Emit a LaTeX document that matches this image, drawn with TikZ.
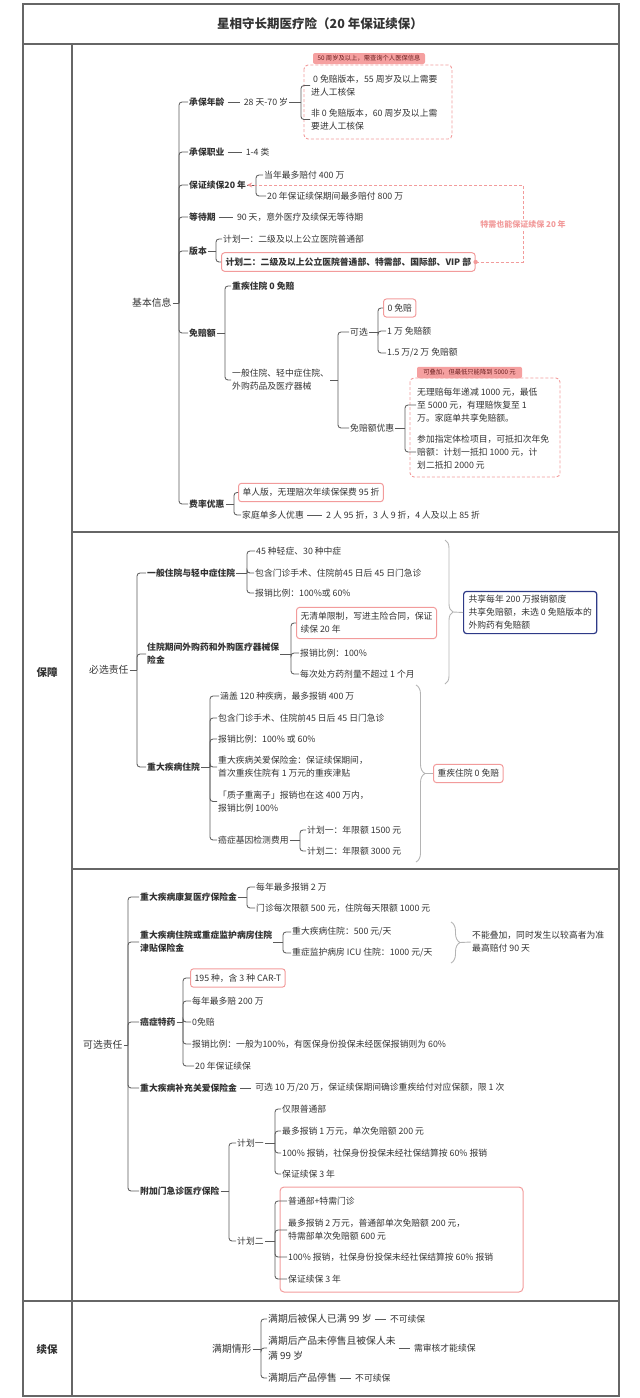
\documentclass[tikz,border=0pt]{standalone}
\usepackage{fontspec}
\setmainfont{Noto Sans CJK SC}
\usetikzlibrary{decorations.pathreplacing,arrows.meta}
\definecolor{txtc}{HTML}{333333}
\definecolor{linec}{HTML}{5A5A5A}
\definecolor{gridc}{HTML}{666666}
\definecolor{pinkc}{HTML}{F29B9B}
\definecolor{tagfill}{HTML}{F5A0A0}
\definecolor{tagtxt}{HTML}{6E2222}
\definecolor{bluec}{HTML}{2E3A87}
\definecolor{bracec}{HTML}{B4B4B4}
\newcommand{\mmfork}[3]{%
  \draw[conn] (#1.east) -- (#1.east -| #2);
  \foreach \kid in {#3}{\draw[conn] (#1.east -| #2) |- (\kid.west);}%
}
\begin{document}
\begin{tikzpicture}[x=1pt,y=-1pt,
  every node/.style={inner sep=1pt, text=txtc, font=\fontsize{8.8}{13}\selectfont, align=left},
  tx/.style={anchor=west},
  bt/.style={anchor=west, font=\fontsize{8.8}{13}\selectfont\bfseries},
  root/.style={anchor=west, font=\fontsize{9.8}{13}\selectfont},
  big/.style={anchor=west, font=\fontsize{9.8}{14.5}\selectfont},
  sect/.style={font=\fontsize{10.5}{13}\selectfont\bfseries},
  conn/.style={draw=linec, line width=0.85pt, rounded corners=3pt},
  single/.style={draw=linec, line width=0.85pt, shorten <=2pt, shorten >=3pt},
  grid/.style={draw=gridc, line width=1.2pt},
  pbox/.style={anchor=west, draw=pinkc, line width=1pt, rounded corners=3pt, inner xsep=4pt, inner ysep=5pt},
  pboxb/.style={pbox, font=\fontsize{8.8}{13}\selectfont\bfseries},
  pdash/.style={draw=pinkc, dash pattern=on 3pt off 2pt, line width=0.9pt, rounded corners=4pt},
  tag/.style={fill=tagfill, text=tagtxt, rounded corners=2pt, font=\fontsize{6.3}{7}\selectfont, inner sep=0pt, minimum height=11pt},
  sumbrace/.style={draw=bracec, line width=0.9pt, decorate, decoration={brace, amplitude=#1}},
  sumline/.style={draw=bracec, line width=0.9pt}
]
\useasboundingbox (0,0) rectangle (640,1398);

% ---------- table ----------
\draw[grid] (23,4) rectangle (619,1396);
\draw[grid] (23,44) -- (619,44);
\draw[grid] (72,44) -- (72,1396);
\draw[grid] (72,532) -- (619,532);
\draw[grid] (72,869) -- (619,869);
\draw[grid] (23,1301) -- (619,1301);
\node[font=\fontsize{12.5}{15}\selectfont\bfseries] (title) at (320,24) {星相守长期医疗险（20 年保证续保）};
\node[sect] (secbz) at (47,672) {保障};
\node[sect] (secxb) at (47,1349) {续保};

% ---------- 基本信息 ----------
\node[root] (jb) at (131,303) {基本信息};
\coordinate (s1) at (179,0);
\node[bt] (a1) at (188,102) {承保年龄};
\node[tx] (a1v) at ([xshift=17pt]a1.east) {28 天-70 岁};
\coordinate (s1a) at (301,0);
\draw[pdash] (304,65) rectangle (452,139);
\node[tag, minimum width=112pt] (tg1) at (369,58.5) {50 周岁及以上，需查询个人医保信息};
\node[tx] (a1c1) at (310,85.5) {\hspace*{2pt}0 免赔版本，55 周岁及以上需要\\进人工核保};
\node[tx] (a1c2) at (310,119.5) {非 0 免赔版本，60 周岁及以上需\\要进人工核保};
\draw[single] (a1.east) -- (a1v.west);
\mmfork{a1v}{s1a}{a1c1,a1c2}

\node[bt] (a2) at (188,152) {承保职业};
\node[tx] (a2v) at ([xshift=19pt]a2.east) {1-4 类};
\draw[single] (a2.east) -- (a2v.west);

\node[bt] (a3) at (188,185) {保证续保20 年};
\coordinate (s1c) at (256,0);
\node[tx] (a3c1) at (263,175) {当年最多赔付 400 万};
\node[tx] (a3c2) at (266,196) {20 年保证续保期间最多赔付 800 万};
\mmfork{a3}{s1c}{a3c1,a3c2}

\node[bt] (a4) at (188,217) {等待期};
\node[tx] (a4v) at ([xshift=19pt]a4.east) {90 天，意外医疗及续保无等待期};
\draw[single] (a4.east) -- (a4v.west);

\node[bt] (a5) at (188,251) {版本};
\coordinate (s1e) at (216,0);
\node[tx] (a5c1) at (222,239) {计划一：二级及以上公立医院普通部};
\node[pboxb] (a5c2) at (221,262) {计划二：二级及以上公立医院普通部、特需部、国际部、VIP 部};
\mmfork{a5}{s1e}{a5c1,a5c2}

\coordinate (tx1) at (523,0);
\draw[pdash, rounded corners=0pt, -{Stealth[length=5pt,width=5pt]}] (a5c2.east) -- (a5c2.east -| tx1) |- (a3.east);
\fill[pinkc] (a5c2.east) circle (2.2pt);
\node[font=\fontsize{8}{10}\selectfont\bfseries, text=pinkc, fill=white, inner sep=1.5pt] (lbl) at (523,224) {特需也能保证续保 20 年};

\node[bt] (a6) at (188,333) {免赔额};
\coordinate (s1f) at (225,0);
\node[bt] (a6c1) at (231,286) {重疾住院 0 免赔};
\node[tx] (a6c2) at (231,380) {一般住院、轻中症住院、\\外购药品及医疗器械};
\mmfork{a6}{s1f}{a6c1,a6c2}
\coordinate (s1g) at (338,0);
\node[tx] (kx) at (349,332) {可选};
\node[tx] (my) at (349,428) {免赔额优惠};
\mmfork{a6c2}{s1g}{kx,my}
\coordinate (s1h) at (378,0);
\node[pbox] (k1) at (383,308) {0 免赔};
\node[tx] (k2) at (386,331) {1 万 免赔额};
\node[tx] (k3) at (386,353) {1.5 万/2 万 免赔额};
\mmfork{kx}{s1h}{k1,k2,k3}
\draw[pdash] (410,378) rectangle (560,477);
\node[tag, minimum width=105pt, minimum height=11.5pt] (tg2) at (469.5,372.5) {可叠加，但最低只能降到 5000 元};
\coordinate (s1i) at (405,0);
\node[tx] (m1) at (416,405) {无理赔每年递减 1000 元，最低\\至 5000 元，有理赔恢复至 1\\万。家庭单共享免赔额。};
\node[tx] (m2) at (416,452) {参加指定体检项目，可抵扣次年免\\赔额：计划一抵扣 1000 元，计\\划二抵扣 2000 元};
\mmfork{my}{s1i}{m1,m2}

\node[bt] (a7) at (188,504) {费率优惠};
\coordinate (s1j) at (234,0);
\node[pbox] (f1) at (238,492.5) {单人版，无理赔次年续保保费 95 折};
\node[tx] (f2) at (241,515) {家庭单多人优惠};
\node[tx] (f2v) at ([xshift=20pt]f2.east) {2 人 95 折，3 人 9 折，4 人及以上 85 折};
\mmfork{a7}{s1j}{f1,f2}
\draw[single] (f2.east) -- (f2v.west);

\mmfork{jb}{s1}{a1,a2,a3,a4,a5,a6,a7}

% ---------- 必选责任 ----------
\node[root] (bx) at (88,670) {必选责任};
\coordinate (s2) at (137,0);
\node[bt] (b1) at (146,573) {一般住院与轻中症住院};
\node[bt] (b2) at (146,654) {住院期间外购药和外购医疗器械保\\险金};
\node[bt] (b3) at (146,767) {重大疾病住院};
\mmfork{bx}{s2}{b1,b2,b3}

\coordinate (s2a) at (247,0);
\node[tx] (b1c1) at (255,551) {45 种轻症、30 种中症};
\node[tx] (b1c2) at (254,573) {包含门诊手术、住院前45 日后 45 日门急诊};
\node[tx] (b1c3) at (254,593) {报销比例：100\%或 60\%};
\mmfork{b1}{s2a}{b1c1,b1c2,b1c3}

\coordinate (s2b) at (291,0);
\node[pbox] (b2c1) at (296,623) {无清单限制，写进主险合同，保证\\续保 20 年};
\node[tx] (b2c2) at (299,653) {报销比例：100\%};
\node[tx] (b2c3) at (299,674) {每次处方药剂量不超过 1 个月};
\mmfork{b2}{s2b}{b2c1,b2c2,b2c3}

\coordinate (br1t) at (445,540);
\coordinate (br1b) at (445,684);
\coordinate (br1p) at (453,612);
\draw[sumbrace=8pt] (br1t) -- (br1b);
\node[anchor=west, draw=bluec, line width=1.2pt, rounded corners=3pt, inner xsep=5pt, inner ysep=4pt] (blue) at (463,612.5) {共享每年 200 万报销额度\\共享免赔额，未选 0 免赔版本的\\外购药有免赔额};
\draw[sumline] (br1p) -- (blue.west);

\coordinate (s2c) at (210,0);
\node[tx] (b3c1) at (219,696) {涵盖 120 种疾病，最多报销 400 万};
\node[tx] (b3c2) at (217,718) {包含门诊手术、住院前45 日后 45 日门急诊};
\node[tx] (b3c3) at (217,739) {报销比例：100\% 或 60\%};
\node[tx] (b3c4) at (217,767) {重大疾病关爱保险金：保证续保期间，\\首次重疾住院有 1 万元的重疾津贴};
\node[tx] (b3c5) at (217,801.5) {「质子重离子」报销也在这 400 万内，\\报销比例 100\%};
\node[tx] (b3c6) at (217,840) {癌症基因检测费用};
\mmfork{b3}{s2c}{b3c1,b3c2,b3c3,b3c4,b3c5,b3c6}
\coordinate (s2d) at (300,0);
\node[tx] (g1) at (306,830) {计划一：年限额 1500 元};
\node[tx] (g2) at (306,851) {计划二：年限额 3000 元};
\mmfork{b3c6}{s2d}{g1,g2}

\coordinate (br2t) at (416,685);
\coordinate (br2b) at (416,862);
\coordinate (br2p) at (425,773.5);
\draw[sumbrace=9pt] (br2t) -- (br2b);
\node[pbox] (zj) at (433,773.5) {重疾住院 0 免赔};
\draw[sumline] (br2p) -- (zj.west);

% ---------- 可选责任 ----------
\node[root] (kx0) at (82,1045) {可选责任};
\coordinate (s3) at (128,0);
\node[bt] (c1) at (139,897) {重大疾病康复医疗保险金};
\node[bt] (c2) at (139,942) {重大疾病住院或重症监护病房住院\\津贴保险金};
\node[bt] (c3) at (139,1022) {癌症特药};
\node[bt] (c4) at (139,1088) {重大疾病补充关爱保险金};
\node[bt] (c5) at (139,1191) {附加门急诊医疗保险};
\mmfork{kx0}{s3}{c1,c2,c3,c4,c5}

\coordinate (s3a) at (247,0);
\node[tx] (c1a) at (255,887) {每年最多报销 2 万};
\node[tx] (c1b) at (255,908) {门诊每次限额 500 元，住院每天限额 1000 元};
\mmfork{c1}{s3a}{c1a,c1b}

\coordinate (s3b) at (283,0);
\node[tx] (c2a) at (291,932) {重大疾病住院：500 元/天};
\node[tx] (c2b) at (291,953) {重症监护病房 ICU 住院：1000 元/天};
\mmfork{c2}{s3b}{c2a,c2b}
\coordinate (br3t) at (451,922);
\coordinate (br3b) at (451,963);
\coordinate (br3p) at (460,942.5);
\draw[sumbrace=9pt] (br3t) -- (br3b);
\node[tx] (c2s) at (471,942) {不能叠加，同时发生以较高者为准\\最高赔付 90 天};
\draw[sumline] (br3p) -- (c2s.west);

\coordinate (s3c) at (183,0);
\node[pbox] (c3a) at (190,978) {195 种，含 3 种 CAR-T};
\node[tx] (c3b) at (191,1001) {每年最多赔 200 万};
\node[tx] (c3c) at (191,1022) {0免赔};
\node[tx] (c3d) at (191,1044) {报销比例：一般为100\%，有医保身份投保未经医保报销则为 60\%};
\node[tx] (c3e) at (194,1066) {20 年保证续保};
\mmfork{c3}{s3c}{c3a,c3b,c3c,c3d,c3e}

\node[tx] (c4v) at ([xshift=16pt]c4.east) {可选 10 万/20 万，保证续保期间确诊重疾给付对应保额，限 1 次};
\draw[single] (c4.east) -- (c4v.west);

\coordinate (s3d) at (229,0);
\node[tx] (p1) at (236,1143) {计划一};
\node[tx] (p2) at (236,1241) {计划二};
\mmfork{c5}{s3d}{p1,p2}
\coordinate (s3e) at (275,0);
\node[tx] (p1a) at (281,1109) {仅限普通部};
\node[tx] (p1b) at (281,1131) {最多报销 1 万元，单次免赔额 200 元};
\node[tx] (p1c) at (281,1153) {100\% 报销，社保身份投保未经社保结算按 60\% 报销};
\node[tx] (p1d) at (281,1174) {保证续保 3 年};
\mmfork{p1}{s3e}{p1a,p1b,p1c,p1d}
\draw[draw=pinkc, line width=1pt, rounded corners=4pt] (280,1187) rectangle (523,1292);
\node[tx] (p2a) at (287,1201) {普通部+特需门诊};
\node[tx] (p2b) at (287,1230) {最多报销 2 万元，普通部单次免赔额 200 元，\\特需部单次免赔额 600 元};
\node[tx] (p2c) at (287,1257) {100\% 报销，社保身份投保未经社保结算按 60\% 报销};
\node[tx] (p2d) at (287,1279) {保证续保 3 年};
\mmfork{p2}{s3e}{p2a,p2b,p2c,p2d}

% ---------- 续保 ----------
\node[root] (mq) at (211,1349) {满期情形};
\coordinate (s4) at (261,0);
\node[big] (q1) at (267,1319) {满期后被保人已满 99 岁};
\node[big] (q2) at (267,1348) {满期后产品未停售且被保人未\\满 99 岁};
\node[big] (q3) at (267,1378) {满期后产品停售};
\mmfork{mq}{s4}{q1,q2,q3}
\node[tx] (q1v) at ([xshift=16pt]q1.east) {不可续保};
\node[tx] (q2v) at ([xshift=16pt]q2.east) {需审核才能续保};
\node[tx] (q3v) at ([xshift=16pt]q3.east) {不可续保};
\draw[single] (q1.east) -- (q1v.west);
\draw[single] (q2.east) -- (q2v.west);
\draw[single] (q3.east) -- (q3v.west);
\end{tikzpicture}
\end{document}
